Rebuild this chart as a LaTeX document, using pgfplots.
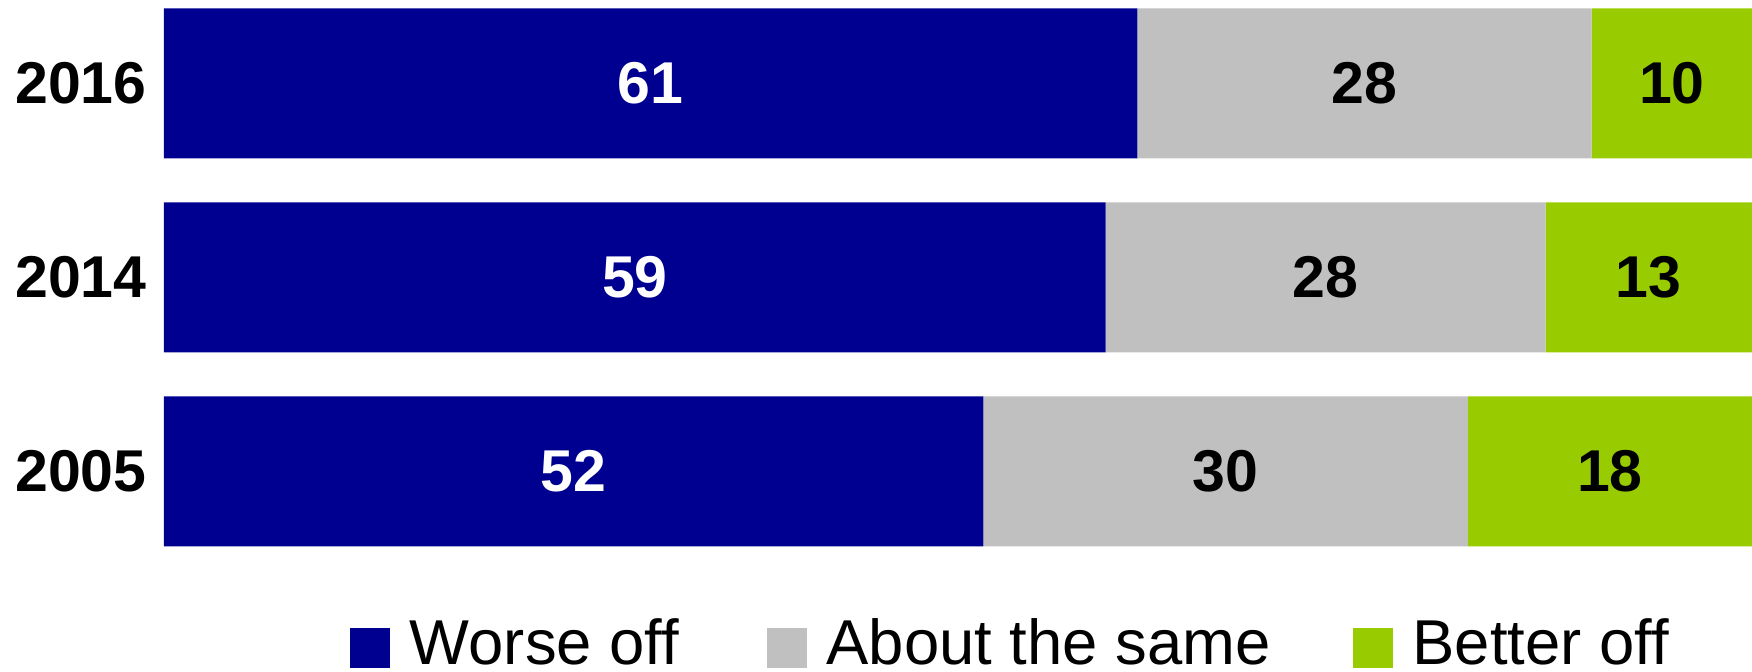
\documentclass[border=0pt]{standalone}
\usepackage{fontspec}
\setmainfont{Liberation Sans}
\usepackage{pgfplots}
\usepackage{pgfplotstable}
\pgfplotsset{compat=1.18}
\definecolor{cblue}{RGB}{0,0,144}
\definecolor{cgray}{RGB}{192,192,192}
\definecolor{cgreen}{RGB}{153,204,0}
\pgfplotstableread{
y v label
2 61.3 61
1 59.3 59
0 51.6 52
}\worse
\pgfplotstableread{
y v label
2 28.6 28
1 27.7 28
0 30.5 30
}\same
\pgfplotstableread{
y v label
2 10.1 10
1 13.0 13
0 17.9 18
}\better
\begin{document}
\begin{tikzpicture}
\path[use as bounding box] (0,0) rectangle (876pt,336pt);
\begin{axis}[
  at={(82pt,51.8pt)}, anchor=south west,
  scale only axis, width=794pt, height=284.2pt,
  xbar stacked, bar width=75pt,
  xmin=0, xmax=100, ymin=-0.5, ymax=2.43,
  axis line style={draw=none},
  major tick length=0pt,
  xtick=\empty,
  ytick={0,1,2}, yticklabels={2005,2014,2016},
  yticklabel style={font=\bfseries\fontsize{29.5}{36}\selectfont, inner sep=0pt, xshift=-8.5pt},
  legend columns=3,
  legend style={at={(0.1171,-0.1752)}, anchor=south west, draw=none, fill=none,
    inner sep=0pt, outer sep=0pt, font=\fontsize{31.7}{38}\selectfont,
    nodes={inner sep=0pt},
    /tikz/every odd column/.style={column sep=10pt},
    /tikz/column 2/.style={column sep=43.8pt},
    /tikz/column 4/.style={column sep=41pt}},
  legend image code/.code={\fill[#1] (0pt,-12.3pt) rectangle (20pt,7.7pt);},
  nodes near coords,
  point meta=explicit symbolic,
  every node near coord/.append style={font=\bfseries\fontsize{29.5}{36}\selectfont,
    anchor=center},
]
\addplot[fill=cblue, draw=none,
  every node near coord/.append style={text=white}]
  table[x=v, y=y, meta=label] {\worse};
\addplot[fill=cgray, draw=none,
  every node near coord/.append style={text=black}]
  table[x=v, y=y, meta=label] {\same};
\addplot[fill=cgreen, draw=none,
  every node near coord/.append style={text=black}]
  table[x=v, y=y, meta=label] {\better};
\legend{Worse off, About the same, Better off}
\end{axis}
\end{tikzpicture}
\end{document}
